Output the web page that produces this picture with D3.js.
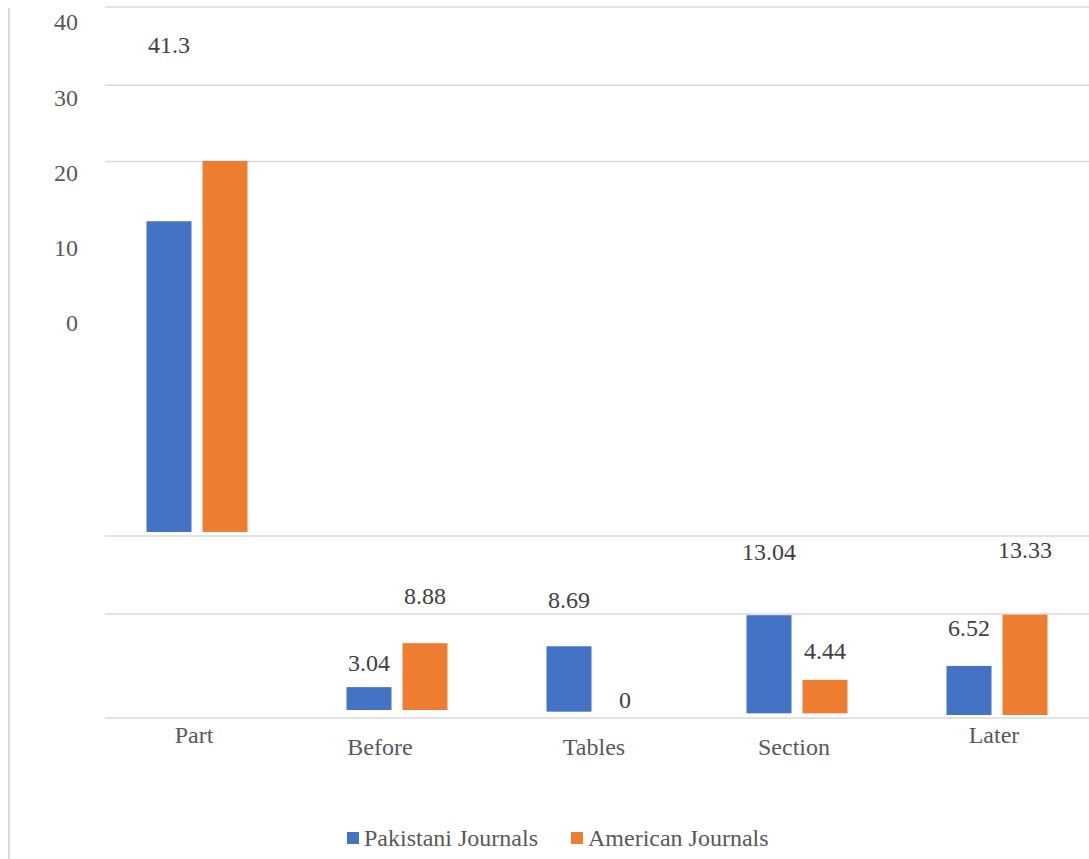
<!DOCTYPE html>
<html>
<head>
<meta charset="utf-8">
<script src="https://cdn.jsdelivr.net/npm/d3@7"></script>
<style>
  body { margin: 0; background: #fff; }
</style>
</head>
<body>
<script>
// chart values
const categories = ["Part", "Before", "Tables", "Section", "Later"];
const pakistani = [41.3, 3.04, 8.69, 13.04, 6.52];
const american = [49.3, 8.88, 0, 4.44, 13.33];
const seriesNames = ["Pakistani Journals", "American Journals"];
const yTicks = [0, 10, 20, 30, 40];

const colors = ["#4472c4", "#ed7d31"];
const FONT = "Liberation Serif";
const W = 1089, H = 859;

const svg = d3.select("body").append("svg")
    .attr("width", W)
    .attr("height", H);

// left border line
svg.append("line")
    .attr("x1", 9).attr("x2", 9)
    .attr("y1", 8).attr("y2", H)
    .attr("stroke", "#d9d9d9")
    .attr("stroke-width", 2);

// value axis (tick labels only)
const y = d3.scaleLinear().domain([0, 40]).range([323, 22]);

// gridlines: upper group follows the value axis, lower group the baseline of the small bars
const gridY = [y(40) - 15, y(30) - 12, y(20) - 11, 536, 614, 718];
svg.append("g")
    .selectAll("line")
    .data(gridY)
    .enter()
    .append("line")
    .attr("x1", 105).attr("x2", W)
    .attr("y1", d => d).attr("y2", d => d)
    .attr("stroke", "#d9d9d9")
    .attr("stroke-width", 1.5);

svg.append("g")
    .selectAll("text")
    .data(yTicks)
    .enter()
    .append("text")
    .style("font-family", FONT)
    .attr("x", 78)
    .attr("y", d => y(d))
    .attr("dy", "0.35em")
    .attr("text-anchor", "end")
    .attr("font-size", 24)
    .attr("fill", "#595959")
    .text(d => d);

// category positions
const x = d3.scaleBand()
    .domain(categories)
    .range([97, 1097]);
const barW = 45, half = 28;

// baselines: the first group sits high, the rest drift slightly down
const lowBase = d3.scaleLinear().domain([1, 4]).range([710, 715]);
const base = i => i === 0 ? 532 : lowBase(i);
const barH = v => y(0) - y(v);
const labelOff = d3.scaleLinear().domain([0, 40]).range([12, 472]);

const rows = [];
categories.forEach((c, i) => {
    rows.push({ cat: c, i: i, s: 0, v: pakistani[i], label: true });
    rows.push({ cat: c, i: i, s: 1, v: american[i], label: i !== 0 });
});
const cx = d => x(d.cat) + x.bandwidth() / 2 + (d.s === 0 ? -half : half);

svg.append("g")
    .selectAll("rect")
    .data(rows)
    .enter()
    .append("rect")
    .attr("x", d => cx(d) - barW / 2)
    .attr("y", d => base(d.i) - barH(d.v))
    .attr("width", barW)
    .attr("height", d => barH(d.v))
    .attr("fill", d => colors[d.s]);

svg.append("g")
    .selectAll("text")
    .data(rows.filter(d => d.label))
    .enter()
    .append("text")
    .style("font-family", FONT)
    .attr("x", d => cx(d))
    .attr("y", d => base(d.i) - labelOff(d.v))
    .attr("dy", "0.35em")
    .attr("text-anchor", "middle")
    .attr("font-size", 24)
    .attr("fill", "#404040")
    .text(d => d.v);

// category labels, end ones sit a bit higher
svg.append("g")
    .selectAll("text")
    .data(categories)
    .enter()
    .append("text")
    .style("font-family", FONT)
    .attr("x", (d, i) => x(d) + x.bandwidth() / 2 - (i === 1 ? 17 : 3))
    .attr("y", (d, i) => (i === 0 || i === categories.length - 1) ? 735 : 747)
    .attr("dy", "0.35em")
    .attr("text-anchor", "middle")
    .attr("font-size", 24)
    .attr("fill", "#595959")
    .text(d => d);

// legend
const legend = svg.append("g")
    .selectAll("g")
    .data(seriesNames)
    .enter()
    .append("g")
    .attr("transform", (d, i) => `translate(${i === 0 ? 347 : 571},832)`);
legend.append("rect")
    .attr("width", 12).attr("height", 12)
    .attr("fill", (d, i) => colors[i]);
legend.append("text")
    .style("font-family", FONT)
    .attr("x", 17)
    .attr("y", 6)
    .attr("dy", "0.35em")
    .attr("font-size", 24)
    .attr("fill", "#595959")
    .text(d => d);
</script>
</body>
</html>
